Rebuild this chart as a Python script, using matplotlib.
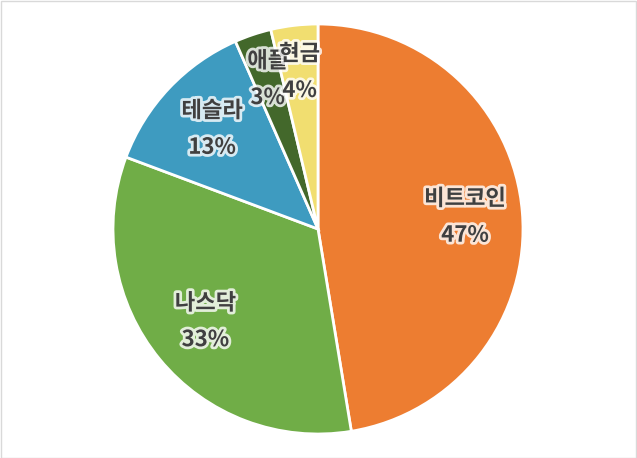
import numpy as np
import matplotlib.pyplot as plt
import matplotlib.patheffects as pe
from matplotlib.patches import Rectangle

plt.rcParams['font.family'] = ['Noto Sans CJK KR', 'DejaVu Sans']

labels = ['비트코인', '나스닥', '테슬라', '애플', '현금']
shares = [47.4, 33.3, 12.7, 2.9, 3.7]
colors = ['#ED7D31', '#70AD47', '#3E9BC0', '#43682B', '#F1DE70']

fig = plt.figure(figsize=(6.37, 4.58), dpi=100)
w, h = 637, 458
cx, cy, r = 318, 229, 205
ax = fig.add_axes([(cx - r) / w, (h - cy - r) / h, 2 * r / w, 2 * r / h])

wedges, _ = ax.pie(shares, colors=colors, startangle=90, counterclock=False,
                   wedgeprops=dict(edgecolor='white', linewidth=2))

# label distance from centre (fraction of radius) for each slice
dist = [0.72, 0.71, 0.71, 0.77, 0.77]
total = sum(shares)
for wd, name, v, d in zip(wedges, labels, shares, dist):
    ang = np.deg2rad((wd.theta1 + wd.theta2) / 2)
    t = ax.text(d * np.cos(ang), d * np.sin(ang), f'{name}\n{round(v / total * 100)}%',
                ha='center', va='center', fontsize=16, fontweight='bold',
                color='#404040', linespacing=1.75)
    t.set_path_effects([pe.withStroke(linewidth=4, foreground='white', alpha=0.8)])

ax.set_xlim(-1, 1)
ax.set_ylim(-1, 1)
ax.set_aspect('equal')

fig.patches.append(Rectangle((0.5 / w, 0.5 / h), 1 - 1.5 / w, 1 - 1.5 / h,
                             transform=fig.transFigure, fill=False,
                             edgecolor='#d9d9d9', linewidth=1))

fig.savefig('out.png', dpi=100)
